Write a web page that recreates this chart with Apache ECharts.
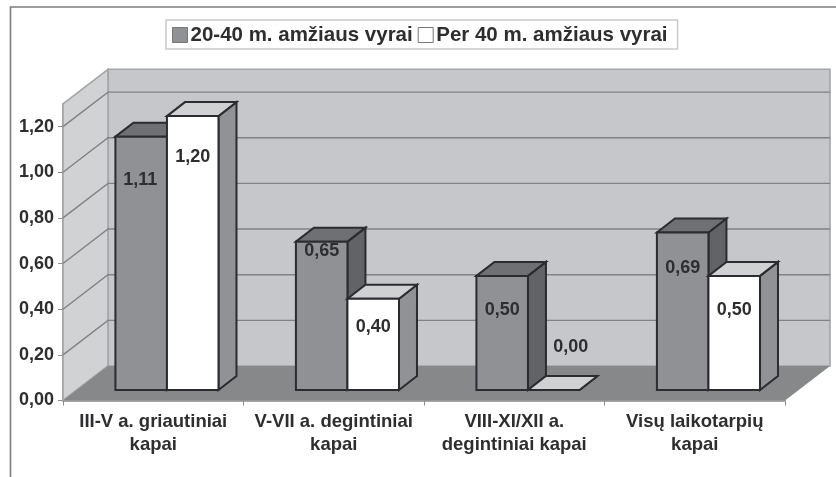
<!DOCTYPE html>
<html><head><meta charset="utf-8">
<style>html,body{margin:0;padding:0;background:#fff}#c{width:836px;height:477px}</style>
<script src="https://cdn.jsdelivr.net/npm/echarts@6/dist/echarts.min.js"></script>
</head><body><div id="c"></div>
<script>
const categories = ['III-V a. griautiniai\nkapai','V-VII a. degintiniai\nkapai','VIII-XI/XII a.\ndegintiniai kapai','Visų laikotarpių\nkapai'];
const seriesNames = ['20-40 m. amžiaus vyrai','Per 40 m. amžiaus vyrai'];
const younger = [1.11,0.65,0.50,0.69];
const older = [1.20,0.40,0.00,0.50];
const yTicks = [0,0.2,0.4,0.6,0.8,1.0,1.2];
const yMax = 1.3;
// label nudges relative to the top-centre of each bar's front face
const youngerLabelShift = [[-1,43],[0,9],[0,34],[0,36]];
const olderLabelShift = [[0,41],[0,28],[17,-43],[0,34]];

const WALL_DX = 45, WALL_DY = 34.5, BAR_DX = 18, BAR_DY = 14, INSET_DX = 13.7, INSET_DY = 10.5;
const fmt = v => v.toFixed(2).replace('.', ',');
const TEXT = '#2e2e30', FONT = '"Liberation Sans", Arial, sans-serif';

function poly(points, fill, stroke, lw) {
  return {type:'polygon', shape:{points}, style:{fill, stroke:stroke||'none', lineWidth:lw||0, lineJoin:'miter'}};
}
function wallItem(params, api) {
  const g = params.coordSys, v = api.value(1);
  const L = g.x, R = g.x + g.width, T = g.y, B = g.y + g.height, y = api.coord([0, v])[1];
  const kids = [];
  if (params.dataIndex === 0) {
    kids.push(poly([[L+WALL_DX,T-WALL_DY],[R+WALL_DX,T-WALL_DY],[R+WALL_DX,B-WALL_DY],[L+WALL_DX,B-WALL_DY]],'#c5c7ca','#a3a5a8',1.6));
    kids.push(poly([[L,T],[L+WALL_DX,T-WALL_DY],[L+WALL_DX,B-WALL_DY],[L,B]],'#d0d2d4','#a3a5a8',1.6));
    kids.push(poly([[L,B],[L+WALL_DX,B-WALL_DY],[R+WALL_DX,B-WALL_DY],[R,B]],'#87888a'));
  } else {
    const line = {stroke:'#808285', lineWidth:1.4};
    kids.push({type:'polyline', shape:{points:[[L,y],[L+WALL_DX,y-WALL_DY],[R+WALL_DX,y-WALL_DY]]}, style:Object.assign({fill:'none'},line)});
  }
  return {type:'group', children:kids};
}
function barItem(opts) {
  return function(params, api) {
    const i = params.dataIndex, v = api.value(1);
    const band = api.size([1,0])[0], w = band*0.2855;
    const base = api.coord([i,0]), top = api.coord([i,v]);
    const x0 = base[0] + INSET_DX + (opts.side===0 ? -w : 0), x1 = x0 + w;
    const yb = base[1] - INSET_DY, yt = top[1] - INSET_DY;
    const s = '#2b2b30', lw = 2;
    const kids = [
      poly([[x1,yt],[x1+BAR_DX,yt-BAR_DY],[x1+BAR_DX,yb-BAR_DY],[x1,yb]],opts.sideFill,s,lw),
      poly([[x0,yt],[x0+BAR_DX,yt-BAR_DY],[x1+BAR_DX,yt-BAR_DY],[x1,yt]],opts.topFill,s,lw),
      poly([[x0,yt],[x1,yt],[x1,yb],[x0,yb]],opts.frontFill,s,lw)
    ];
    const sh = opts.shift[i];
    kids.push({type:'text', z2:50, style:{text:fmt(v), x:(x0+x1)/2+sh[0], y:yt+sh[1], align:'center', verticalAlign:'middle',
      fill:TEXT, font:'bold 18px '+FONT}});
    return {type:'group', children:kids};
  };
}
const chart = echarts.init(document.getElementById('c'), null, {renderer:'canvas'});
chart.setOption({
  animation:false, backgroundColor:'#ffffff',
  legend:{
    data:seriesNames.map(n=>({name:n, icon:'rect'})), left:166, top:20,
    padding:[4,10,3,6], itemGap:5, itemWidth:15, itemHeight:15, borderColor:'#c9c9c9', borderWidth:1.5, backgroundColor:'#fff',
    selectedMode:false,
    textStyle:{fontFamily:FONT, fontWeight:'bold', fontSize:20.5, lineHeight:22, color:TEXT, padding:[0,0,0,-2]},
    itemStyle:{borderColor:'#777', borderWidth:1}
  },
  grid:{left:63, top:103.8, width:722, height:296.7, containLabel:false},
  xAxis:{type:'category', data:categories, boundaryGap:true,
    axisLine:{lineStyle:{color:'#8b8c8e', width:1.5}}, axisTick:{show:true, length:5, alignWithLabel:false, lineStyle:{color:'#8b8c8e', width:1}},
    axisLabel:{interval:0, margin:10, fontFamily:FONT, fontWeight:'bold', fontSize:18.5, lineHeight:23, color:TEXT}, splitLine:{show:false}},
  yAxis:{type:'value', min:0, max:yMax, interval:0.2,
    axisLine:{show:true, lineStyle:{color:'#8b8c8e', width:1.5}},
    axisTick:{show:true, length:5, customValues:yTicks, lineStyle:{color:'#8b8c8e', width:1}},
    axisLabel:{customValues:yTicks, formatter:fmt, margin:9, fontFamily:FONT, fontWeight:'bold', fontSize:18, color:TEXT},
    splitLine:{show:false}},
  graphic:[
    {type:'polyline', z:100, shape:{points:[[10.5,477],[10.5,7],[836,7]]}, style:{fill:'none', stroke:'#7c7c7c', lineWidth:1.6}}
  ],
  series:[
    {type:'custom', name:'walls', z:1, silent:true, data:yTicks.map(v=>[0,v]), renderItem:wallItem, encode:{x:0,y:1}},
    {type:'custom', name:seriesNames[0], z:2, itemStyle:{color:'#8f9194'}, data:younger.map((v,i)=>[i,v]), encode:{x:0,y:1},
      renderItem:barItem({side:0, frontFill:'#8f9194', topFill:'#6f7073', sideFill:'#626366', shift:youngerLabelShift})},
    {type:'custom', name:seriesNames[1], z:3, itemStyle:{color:'#ffffff'}, data:older.map((v,i)=>[i,v]), encode:{x:0,y:1},
      renderItem:barItem({side:1, frontFill:'#ffffff', topFill:'#cfd1d3', sideFill:'#909295', shift:olderLabelShift})}
  ]
});
</script></body></html>
